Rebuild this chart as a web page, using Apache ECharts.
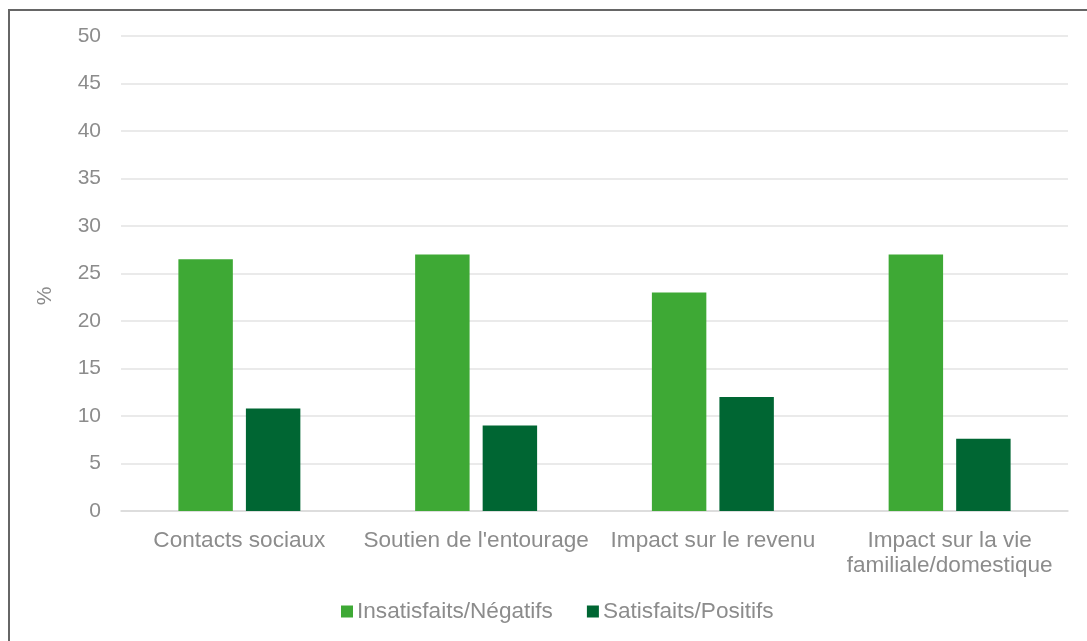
<!DOCTYPE html>
<html>
<head>
<meta charset="utf-8">
<script src="https://cdn.jsdelivr.net/npm/echarts@6/dist/echarts.min.js"></script>
<style>
  html, body { margin: 0; padding: 0; background: #fff; overflow: hidden; }
  #chart { width: 1087px; height: 641px; }
</style>
</head>
<body>
<div id="chart"></div>
<script>
// Categories and values (%)
const categories = [
  "Contacts sociaux",
  "Soutien de l'entourage",
  "Impact sur le revenu",
  "Impact sur la vie\nfamiliale/domestique"
];
const seriesNames = ["Insatisfaits/Négatifs", "Satisfaits/Positifs"];
const negatifs = [26.5, 27.0, 23.0, 27.0];
const positifs = [10.8, 9.0, 12.0, 7.6];
const yTicks = { min: 0, max: 50, interval: 5 };
const yAxisTitle = '%';

const textColor = '#8c8c8c';
const font = 'Liberation Sans, Arial, sans-serif';

const chart = echarts.init(document.getElementById('chart'), null, { renderer: 'canvas' });
chart.setOption({
  animation: false,
  textStyle: { fontFamily: font },
  graphic: [
    {
      type: 'rect',
      silent: true,
      shape: { x: 9, y: 10, width: 1200, height: 800 },
      style: { fill: 'none', stroke: '#666666', lineWidth: 2 }
    },
    {
      type: 'text',
      silent: true,
      x: 45,
      y: 296,
      rotation: Math.PI / 2,
      style: {
        text: yAxisTitle,
        fill: textColor,
        fontSize: 21,
        fontFamily: font,
        align: 'center',
        verticalAlign: 'middle'
      }
    }
  ],
  legend: {
    data: seriesNames,
    bottom: 13,
    left: 336,
    itemWidth: 12,
    itemHeight: 12,
    itemGap: 34,
    icon: 'rect',
    textStyle: { color: textColor, fontSize: 22.6, fontFamily: font, padding: [0, 0, 0, -1] }
  },
  grid: { left: 121, right: 19, top: 36, bottom: 130, containLabel: false },
  xAxis: {
    type: 'category',
    data: categories,
    axisLine: { lineStyle: { color: '#d9d9d9', width: 1.5 } },
    axisTick: { show: false },
    axisLabel: { color: textColor, fontSize: 22.6, fontFamily: font, margin: 17, lineHeight: 25, interval: 0 }
  },
  yAxis: {
    type: 'value',
    min: yTicks.min,
    max: yTicks.max,
    interval: yTicks.interval,
    axisLine: { show: false },
    axisTick: { show: false },
    axisLabel: { color: textColor, fontSize: 21, fontFamily: font, margin: 20 },
    splitLine: { lineStyle: { color: '#e3e3e3', width: 1.5 } }
  },
  series: [
    {
      name: seriesNames[0],
      type: 'bar',
      data: negatifs,
      barWidth: '23%',
      barGap: '24%',
      itemStyle: { color: '#3ea935' }
    },
    {
      name: seriesNames[1],
      type: 'bar',
      data: positifs,
      barWidth: '23%',
      itemStyle: { color: '#006633' }
    }
  ]
});
</script>
</body>
</html>
